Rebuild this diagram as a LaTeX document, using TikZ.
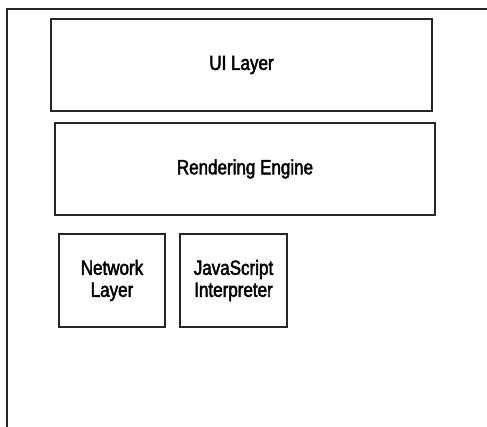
\documentclass[tikz,border=0pt]{standalone}
\usepackage{fontspec}
\setmainfont{Liberation Sans}[FakeStretch=0.83,FakeBold=2.2]
\begin{document}
\begin{tikzpicture}[x=1pt,y=-1pt,
  layerbox/.style={draw=black!85,line width=2pt,inner sep=0pt,align=center,
    font=\fontsize{20.5}{22}\selectfont},
  frameline/.style={draw=black!85,line width=1.6pt}]
\useasboundingbox (0,0) rectangle (487,427);
\coordinate (ftop) at (489,9);
\coordinate (fcorner) at (7,9);
\coordinate (fbottom) at (7,429);
\draw[frameline] (ftop) -- (fcorner) -- (fbottom);
\node[layerbox,minimum width=381pt,minimum height=92pt] (ui) at (241.5,65) {UI Layer};
\node[layerbox,minimum width=380pt,minimum height=92pt] (re) at (245,169) {Rendering Engine};
\node[layerbox,minimum width=106pt,minimum height=93pt] (net) at (112,280.5) {Network\\Layer};
\node[layerbox,minimum width=107pt,minimum height=93pt] (js) at (233.5,280.5) {JavaScript\\Interpreter};
\end{tikzpicture}
\end{document}
